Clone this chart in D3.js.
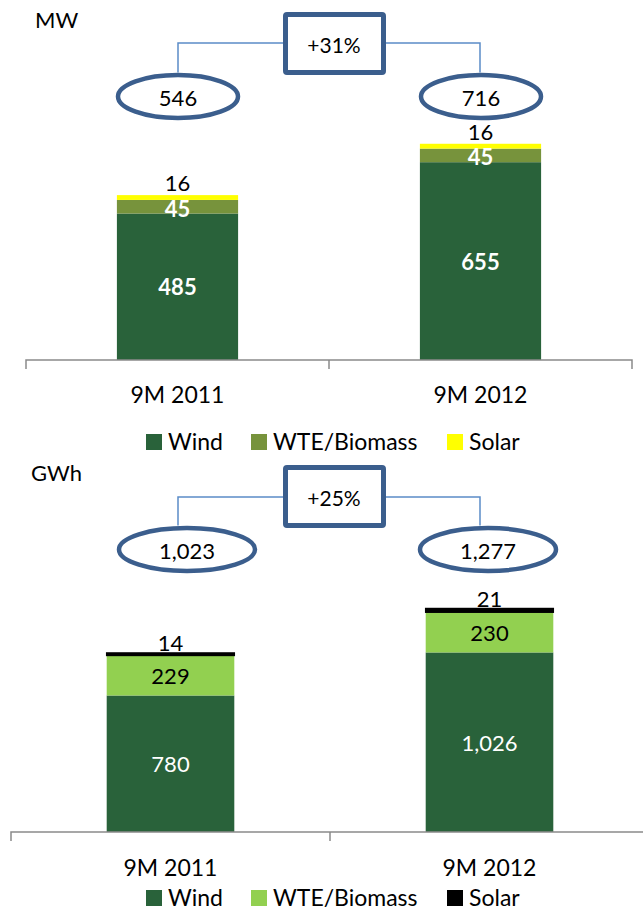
<!DOCTYPE html>
<html>
<head>
<meta charset="utf-8">
<script src="https://cdn.jsdelivr.net/npm/d3@7"></script>
<style>
  body { margin: 0; background: #fff; }
  svg text { font-family: Lato, "Open Sans", sans-serif; }
</style>
</head>
<body>
<script>
'use strict';

// categories + series
const categories = ["9M 2011", "9M 2012"];
const seriesNames = ["Wind", "WTE/Biomass", "Solar"];

// installed capacity (MW)
const mwWind = [485, 655];
const mwWte = [45, 45];
const mwSolar = [16, 16];
const mwTotals = [546, 716];
const mwGrowth = "+31%";

// production (GWh)
const gwhWind = [780, 1026];
const gwhWte = [229, 230];
const gwhSolar = [14, 21];
const gwhTotals = [1023, 1277];
const gwhGrowth = "+25%";

const fmt = d3.format(",");
const darkBlue = "#3b5e8d";
const lineBlue = "#5b8cc8";
const windGreen = "#29623a";

const svg = d3.select("body").append("svg")
    .attr("width", 643)
    .attr("height", 910);

function drawPanel(p) {
    let rows = categories.map((c, i) => ({
        cat: c, Wind: p.wind[i], "WTE/Biomass": p.wte[i], Solar: p.solar[i]
    }));
    let stacked = d3.stack().keys(seriesNames)(rows);

    let x = d3.scaleBand().domain(categories).range(p.xRange);
    let y = d3.scaleLinear().domain([0, p.yMax]).range([p.base, p.base - p.yMax * p.pxPerUnit]);
    let barW = x.bandwidth() * 0.4;
    let cx = c => x(c) + x.bandwidth() / 2;

    // unit label
    svg.append("text")
        .attr("x", p.unitX).attr("y", p.unitY)
        .attr("font-size", "22px")
        .text(p.unit);

    // growth connector
    svg.append("path")
        .attr("d", `M${p.connX[0]},${p.ellY - 24} V${p.connY} H${p.connX[1]} V${p.ellY - 24}`)
        .attr("fill", "none")
        .attr("stroke", lineBlue)
        .attr("stroke-width", 1.5);

    svg.append("rect")
        .attr("x", 285.5).attr("y", p.boxY)
        .attr("width", 98).attr("height", 58)
        .attr("rx", 1.5)
        .attr("fill", "#fff")
        .attr("stroke", darkBlue)
        .attr("stroke-width", 5);
    svg.append("text")
        .attr("x", 334).attr("y", p.boxY + 30)
        .attr("text-anchor", "middle")
        .attr("dominant-baseline", "central")
        .attr("font-size", "21px")
        .text(p.growth);

    // totals in ellipses
    categories.forEach((c, i) => {
        svg.append("ellipse")
            .attr("cx", p.ellX[i]).attr("cy", p.ellY)
            .attr("rx", p.ellRx).attr("ry", 21.5)
            .attr("fill", "#fff")
            .attr("stroke", darkBlue)
            .attr("stroke-width", 4.5);
        svg.append("text")
            .attr("x", p.ellX[i]).attr("y", p.ellY + 1)
            .attr("text-anchor", "middle")
            .attr("dominant-baseline", "central")
            .attr("font-size", "22px")
            .text(fmt(p.totals[i]));
    });

    // bars
    let layers = svg.append("g").selectAll("g")
        .data(stacked)
        .enter().append("g")
        .attr("fill", d => p.colors[d.key]);

    layers.selectAll("rect")
        .data(d => d)
        .enter().append("rect")
        .attr("x", d => cx(d.data.cat) - barW / 2)
        .attr("y", d => y(d[1]))
        .attr("width", barW)
        .attr("height", d => y(d[0]) - y(d[1]))
        .attr("stroke", function() {
            let key = d3.select(this.parentNode).datum().key;
            return key === "Solar" && p.solarStroke ? p.colors.Solar : "none";
        })
        .attr("stroke-width", 1.5);

    // value labels
    stacked.forEach(layer => {
        let st = p.labels[layer.key];
        layer.forEach(d => {
            let t = svg.append("text")
                .attr("x", cx(d.data.cat))
                .attr("text-anchor", "middle")
                .attr("font-size", "22px")
                .attr("fill", st.color)
                .attr("font-weight", st.bold ? "bold" : "normal")
                .text(fmt(d.data[layer.key]));
            if (st.above) {
                t.attr("y", y(d[1]) - p.aboveGap);
            } else {
                t.attr("y", (y(d[0]) + y(d[1])) / 2 + (st.dy || 0))
                    .attr("dominant-baseline", "central");
            }
        });
    });

    // category axis
    let axis = d3.axisBottom(x).tickSize(0).tickFormat("");
    let ax = svg.append("g")
        .attr("transform", `translate(0,${p.base})`)
        .call(axis);
    ax.select(".domain").remove();
    ax.append("path")
        .attr("d", `M${p.xRange[0]},9 V0 H${p.xRange[1]} V9 M${(p.xRange[0] + p.xRange[1]) / 2},0 V9`)
        .attr("fill", "none")
        .attr("stroke", "#8a8a8a")
        .attr("stroke-width", 1.5);

    categories.forEach(c => {
        svg.append("text")
            .attr("x", cx(c)).attr("y", p.catY)
            .attr("text-anchor", "middle")
            .attr("font-size", "23px")
            .text(c);
    });

    // legend
    let legX = [146, 251, 447];
    seriesNames.forEach((s, i) => {
        svg.append("rect")
            .attr("x", legX[i]).attr("y", p.legY - 16)
            .attr("width", 16).attr("height", 16)
            .attr("fill", p.colors[s]);
        svg.append("text")
            .attr("x", legX[i] + 22).attr("y", p.legY)
            .attr("font-size", "23px")
            .text(s);
    });
}

drawPanel({
    unit: "MW", unitX: 35, unitY: 28,
    wind: mwWind, wte: mwWte, solar: mwSolar, totals: mwTotals, growth: mwGrowth,
    xRange: [26, 632], base: 360, yMax: 800, pxPerUnit: 0.302,
    boxY: 14.5, connY: 43, connX: [178, 480],
    ellX: [178, 481], ellY: 96.5, ellRx: 60,
    catY: 403, legY: 450, aboveGap: 4,
    colors: { "Wind": windGreen, "WTE/Biomass": "#77933c", "Solar": "#ffff00" },
    solarStroke: false,
    labels: {
        "Wind": { color: "#fff", bold: true },
        "WTE/Biomass": { color: "#fff", bold: true, dy: 1.5 },
        "Solar": { color: "#000", above: true }
    }
});

drawPanel({
    unit: "GWh", unitX: 31, unitY: 481,
    wind: gwhWind, wte: gwhWte, solar: gwhSolar, totals: gwhTotals, growth: gwhGrowth,
    xRange: [11, 649], base: 832, yMax: 1400, pxPerUnit: 0.175,
    boxY: 467.5, connY: 497, connX: [178, 480],
    ellX: [187, 488], ellY: 549.5, ellRx: 68,
    catY: 876, legY: 906, aboveGap: 2,
    colors: { "Wind": windGreen, "WTE/Biomass": "#92d050", "Solar": "#000000" },
    solarStroke: true,
    labels: {
        "Wind": { color: "#fff", bold: false },
        "WTE/Biomass": { color: "#000", bold: false },
        "Solar": { color: "#000", above: true }
    }
});
</script>
</body>
</html>
